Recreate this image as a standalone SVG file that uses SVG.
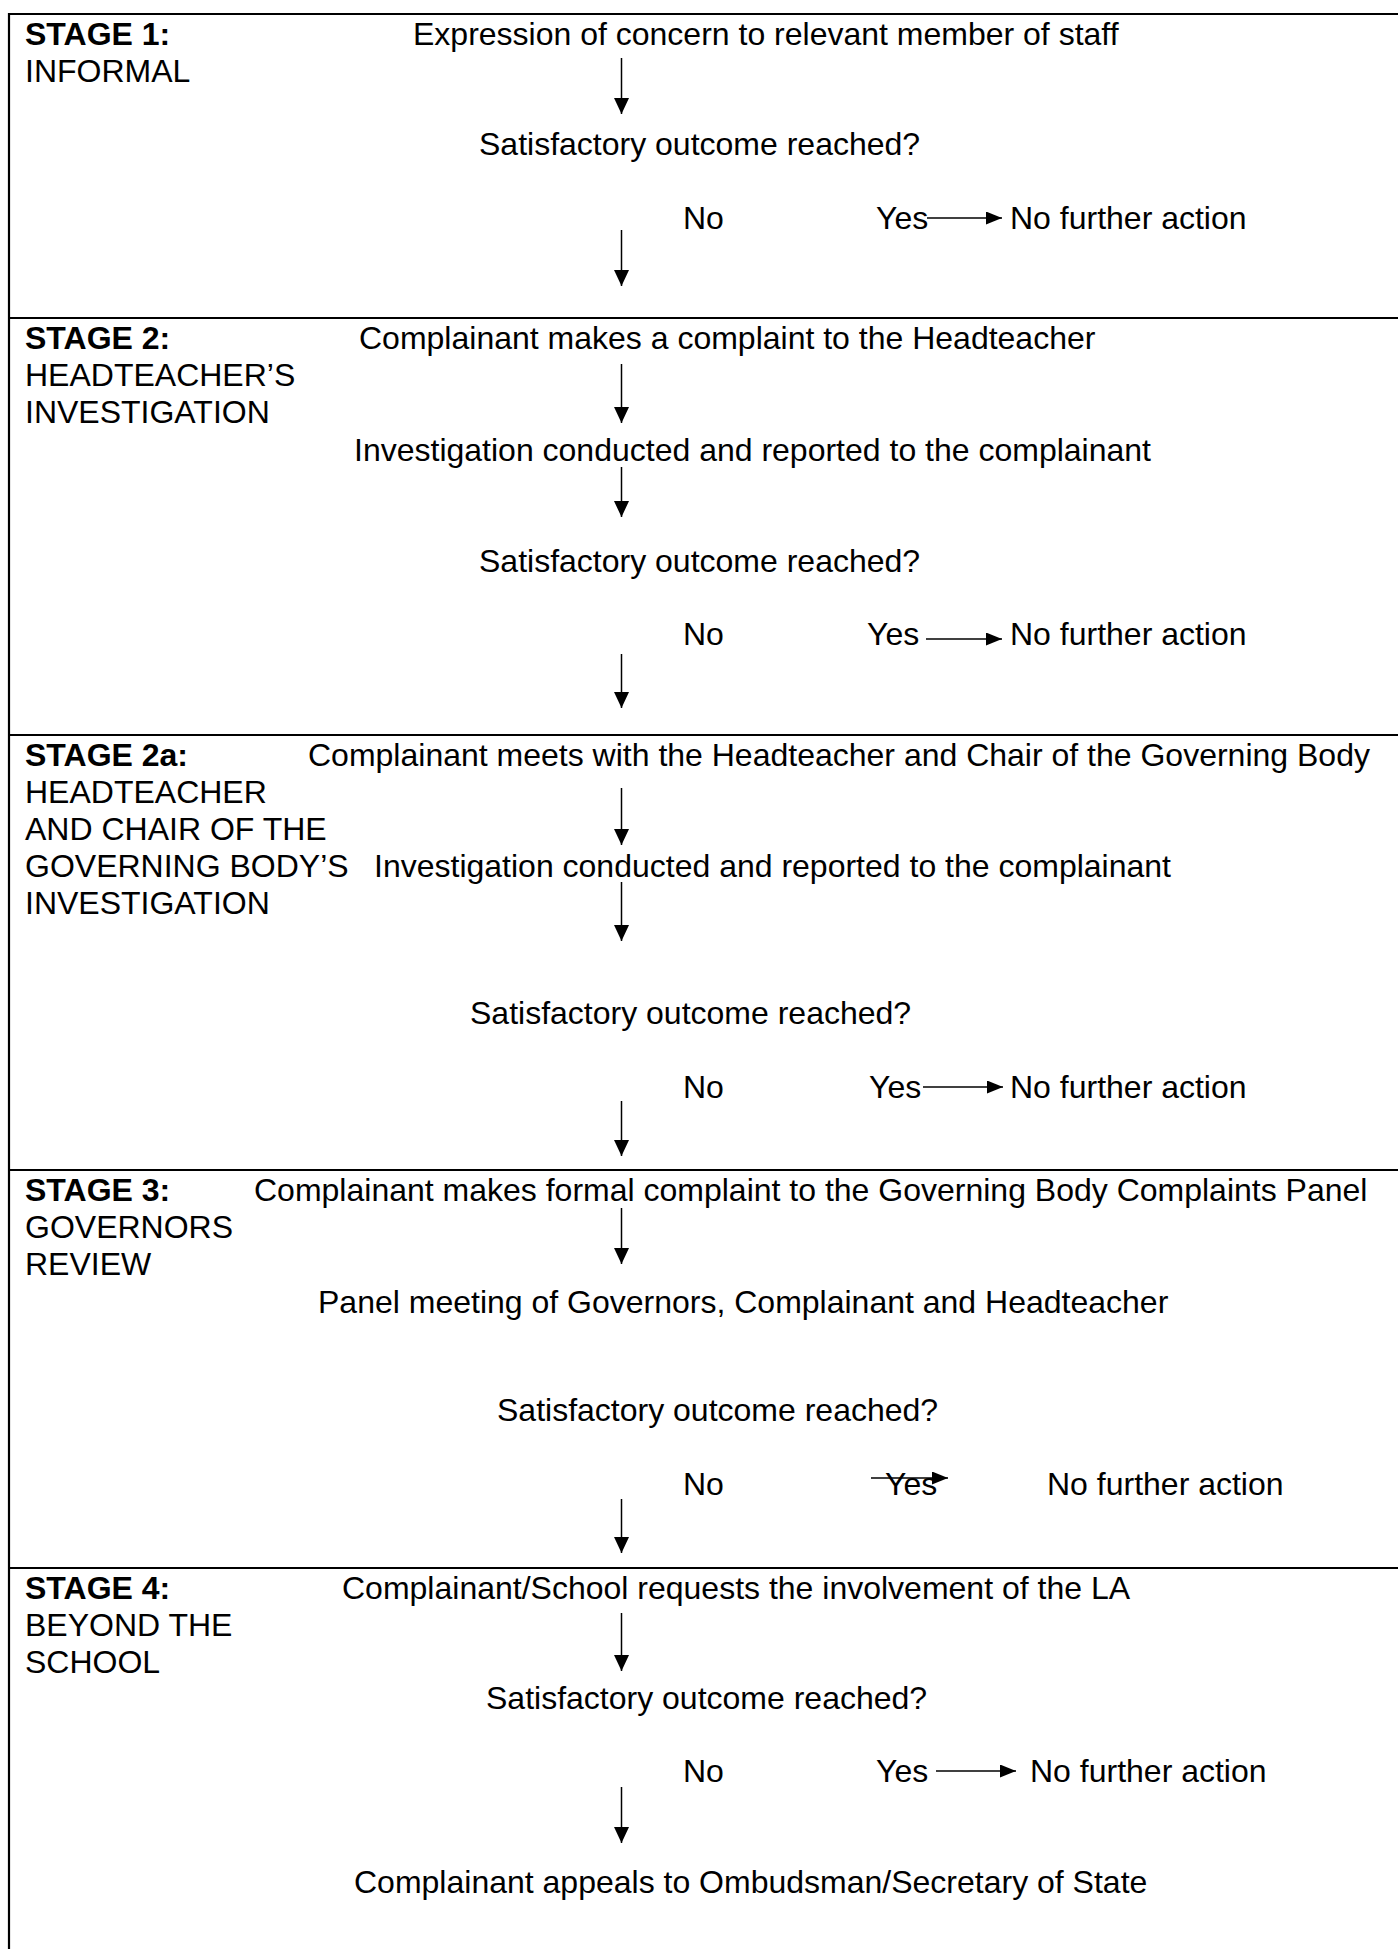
<svg xmlns="http://www.w3.org/2000/svg" width="1398" height="1949" viewBox="0 0 1398 1949">
<style>
text{font-family:"Liberation Sans",Arial,sans-serif;font-size:32px;fill:#000}
.b{font-weight:bold}
.frame{stroke:#000;stroke-width:2.2;fill:none}
.c{stroke:#000;stroke-width:1.5;fill:none}
.cv{marker-end:url(#ahv)}
.ch{marker-end:url(#ahh)}
</style>
<defs>
<marker id="ahv" viewBox="0 0 16 15" refX="16" refY="7.5" markerWidth="16" markerHeight="15" orient="auto" markerUnits="userSpaceOnUse"><path d="M0,0 L16,7.5 L0,15 z" fill="#000"/></marker>
<marker id="ahh" viewBox="0 0 16 13" refX="16" refY="6.5" markerWidth="16" markerHeight="13" orient="auto" markerUnits="userSpaceOnUse"><path d="M0,0 L16,6.5 L0,13 z" fill="#000"/></marker>
</defs>
<rect width="1398" height="1949" fill="#fff"/>
<g id="frame">
<line class="frame" x1="9" y1="14" x2="1398" y2="14"/>
<line class="frame" x1="9" y1="13" x2="9" y2="1949"/>
<line class="frame" x1="9" y1="318" x2="1398" y2="318"/>
<line class="frame" x1="9" y1="735" x2="1398" y2="735"/>
<line class="frame" x1="9" y1="1170" x2="1398" y2="1170"/>
<line class="frame" x1="9" y1="1568" x2="1398" y2="1568"/>
</g>
<g id="stage1">
<text x="25" y="45" class="b">STAGE 1:</text>
<text x="25" y="82">INFORMAL</text>
<text x="413" y="45">Expression of concern to relevant member of staff</text>
<text x="479" y="155">Satisfactory outcome reached?</text>
<text x="683" y="229">No</text>
<text x="876" y="229">Yes</text>
<text x="1010" y="229">No further action</text>
</g>
<g id="stage2">
<text x="25" y="349" class="b">STAGE 2:</text>
<text x="25" y="386">HEADTEACHER’S</text>
<text x="25" y="423">INVESTIGATION</text>
<text x="359" y="349">Complainant makes a complaint to the Headteacher</text>
<text x="354" y="461">Investigation conducted and reported to the complainant</text>
<text x="479" y="572">Satisfactory outcome reached?</text>
<text x="683" y="645">No</text>
<text x="867" y="645">Yes</text>
<text x="1010" y="645">No further action</text>
</g>
<g id="stage2a">
<text x="25" y="766" class="b">STAGE 2a:</text>
<text x="25" y="803">HEADTEACHER</text>
<text x="25" y="840">AND CHAIR OF THE</text>
<text x="25" y="877">GOVERNING BODY’S</text>
<text x="25" y="914">INVESTIGATION</text>
<text x="308" y="766">Complainant meets with the Headteacher and Chair of the Governing Body</text>
<text x="374" y="877">Investigation conducted and reported to the complainant</text>
<text x="470" y="1024">Satisfactory outcome reached?</text>
<text x="683" y="1098">No</text>
<text x="869" y="1098">Yes</text>
<text x="1010" y="1098">No further action</text>
</g>
<g id="stage3">
<text x="25" y="1201" class="b">STAGE 3:</text>
<text x="25" y="1238">GOVERNORS</text>
<text x="25" y="1275">REVIEW</text>
<text x="254" y="1201">Complainant makes formal complaint to the Governing Body Complaints Panel</text>
<text x="318" y="1313">Panel meeting of Governors, Complainant and Headteacher</text>
<text x="497" y="1421">Satisfactory outcome reached?</text>
<text x="683" y="1495">No</text>
<text x="885" y="1495">Yes</text>
<text x="1047" y="1495">No further action</text>
</g>
<g id="stage4">
<text x="25" y="1599" class="b">STAGE 4:</text>
<text x="25" y="1636">BEYOND THE</text>
<text x="25" y="1673">SCHOOL</text>
<text x="342" y="1599">Complainant/School requests the involvement of the LA</text>
<text x="486" y="1709">Satisfactory outcome reached?</text>
<text x="683" y="1782">No</text>
<text x="876" y="1782">Yes</text>
<text x="1030" y="1782">No further action</text>
<text x="354" y="1893">Complainant appeals to Ombudsman/Secretary of State</text>
</g>
<g id="connectors">
<line class="c cv" x1="621.5" y1="58" x2="621.5" y2="114"/>
<line class="c cv" x1="621.5" y1="230" x2="621.5" y2="286"/>
<line class="c ch" x1="927" y1="218" x2="1002" y2="218"/>
<line class="c cv" x1="621.5" y1="364" x2="621.5" y2="423"/>
<line class="c cv" x1="621.5" y1="467" x2="621.5" y2="517"/>
<line class="c ch" x1="926" y1="639" x2="1002" y2="639"/>
<line class="c cv" x1="621.5" y1="654" x2="621.5" y2="708"/>
<line class="c cv" x1="621.5" y1="788" x2="621.5" y2="845"/>
<line class="c cv" x1="621.5" y1="882" x2="621.5" y2="941"/>
<line class="c ch" x1="923" y1="1087" x2="1003" y2="1087"/>
<line class="c cv" x1="621.5" y1="1101" x2="621.5" y2="1156"/>
<line class="c cv" x1="621.5" y1="1208" x2="621.5" y2="1264"/>
<line class="c ch" x1="871" y1="1478" x2="948" y2="1478"/>
<line class="c cv" x1="621.5" y1="1499" x2="621.5" y2="1553"/>
<line class="c cv" x1="621.5" y1="1613" x2="621.5" y2="1671"/>
<line class="c ch" x1="936" y1="1771" x2="1016" y2="1771"/>
<line class="c cv" x1="621.5" y1="1787" x2="621.5" y2="1843"/>
</g>
</svg>
